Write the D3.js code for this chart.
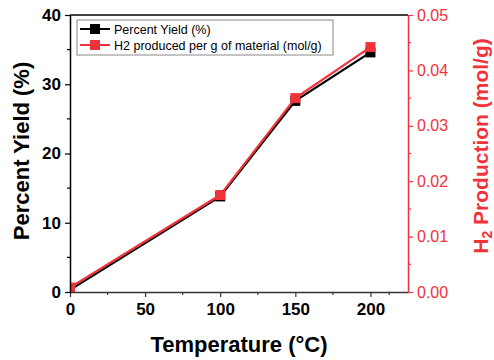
<!DOCTYPE html>
<html>
<head>
<meta charset="utf-8">
<script src="https://cdn.jsdelivr.net/npm/d3@7"></script>
<style>
  body { margin: 0; background: #fff; }
  text { font-family: Arial, "Liberation Sans", sans-serif; }
</style>
</head>
<body>
<svg id="chart" width="494" height="360"></svg>
<script>
// Data
var temps = [0, 100, 150, 200];
var percentYield = [0.3, 13.8, 27.6, 34.6];
var h2Production = [0.0008, 0.0175, 0.0350, 0.0442];
var xTicks = [0, 50, 100, 150, 200];
var yLeftTicks = [0, 10, 20, 30, 40];
var yRightTicks = [0, 0.01, 0.02, 0.03, 0.04, 0.05];
var legendLabels = ["Percent Yield (%)", "H2 produced per g of material (mol/g)"];

var RED = "#f0323a";

var svg = d3.select("#chart");
var m = { l: 70, r: 86, t: 15, b: 68 };
var W = 494, H = 360;

var x = d3.scaleLinear().domain([0, 225]).range([m.l, W - m.r]);
var yL = d3.scaleLinear().domain([0, 40]).range([H - m.b, m.t]);
var yR = d3.scaleLinear().domain([0, 0.05]).range([H - m.b, m.t]);

function translate(a, b) { return "translate(" + a + "," + b + ")"; }

// Clip for plot area
svg.append("clipPath").attr("id", "plotclip")
  .append("rect")
  .attr("x", m.l).attr("y", m.t)
  .attr("width", W - m.r - m.l).attr("height", H - m.b - m.t);

// Top frame line
svg.append("line")
  .attr("x1", m.l).attr("x2", W - m.r)
  .attr("y1", m.t).attr("y2", m.t)
  .style("stroke", "#000").style("stroke-width", 1.5);

// Minor ticks
function minor(ticks) {
  var out = [];
  for (var i = 0; i < ticks.length - 1; i++) out.push((ticks[i] + ticks[i + 1]) / 2);
  return out;
}

// Plot layer (clipped)
var plot = svg.append("g").attr("clip-path", "url(#plotclip)");

var lineL = d3.line().x(function(d, i) { return x(temps[i]); }).y(function(d) { return yL(d); });
var lineR = d3.line().x(function(d, i) { return x(temps[i]); }).y(function(d) { return yR(d); });

plot.append("path").datum(percentYield).attr("d", lineL)
  .style("fill", "none").style("stroke", "#000").style("stroke-width", 2.2);
plot.selectAll("rect.py").data(percentYield).enter().append("rect")
  .attr("class", "py")
  .attr("x", function(d, i) { return x(temps[i]) - 5; })
  .attr("y", function(d) { return yL(d) - 5; })
  .attr("width", 10).attr("height", 10)
  .style("fill", "#000");

plot.append("path").datum(h2Production).attr("d", lineR)
  .style("fill", "none").style("stroke", RED).style("stroke-width", 2.2);
plot.selectAll("rect.h2").data(h2Production).enter().append("rect")
  .attr("class", "h2")
  .attr("x", function(d, i) { return x(temps[i]) - 5; })
  .attr("y", function(d) { return yR(d) - 5; })
  .attr("width", 10).attr("height", 10)
  .style("fill", RED);

// Bottom axis
var gx = svg.append("g").attr("transform", translate(0, H - m.b))
  .call(d3.axisBottom(x).tickValues(xTicks).tickSize(5).tickSizeOuter(0).tickPadding(6));
gx.append("g").selectAll("line").data(minor(xTicks).concat([212.5]))
  .enter().append("line")
  .attr("x1", function(d) { return x(d); }).attr("x2", function(d) { return x(d); })
  .attr("y1", 0).attr("y2", 3);
gx.selectAll("line").style("stroke", "#333").style("stroke-width", 1.2);
gx.select(".domain").style("stroke", "#333").style("stroke-width", 1.5);
gx.selectAll("text").style("font-size", "17px").style("font-weight", "bold").style("fill", "#000");

// Left axis
var gl = svg.append("g").attr("transform", translate(m.l, 0))
  .call(d3.axisLeft(yL).tickValues(yLeftTicks).tickSize(5).tickSizeOuter(0).tickPadding(4));
gl.append("g").selectAll("line").data(minor(yLeftTicks))
  .enter().append("line")
  .attr("y1", function(d) { return yL(d); }).attr("y2", function(d) { return yL(d); })
  .attr("x1", 0).attr("x2", -3);
gl.selectAll("line").style("stroke", "#000").style("stroke-width", 1.2);
gl.select(".domain").style("stroke", "#000").style("stroke-width", 1.5);
gl.selectAll("text").style("font-size", "17px").style("font-weight", "bold").style("fill", "#000");

// Right axis
var gr = svg.append("g").attr("transform", translate(W - m.r, 0))
  .call(d3.axisRight(yR).tickValues(yRightTicks).tickFormat(d3.format(".2f")).tickSize(5).tickSizeOuter(0).tickPadding(4));
gr.append("g").selectAll("line").data(minor(yRightTicks))
  .enter().append("line")
  .attr("y1", function(d) { return yR(d); }).attr("y2", function(d) { return yR(d); })
  .attr("x1", 0).attr("x2", 3);
gr.selectAll("line").style("stroke", RED).style("stroke-width", 1.2);
gr.select(".domain").style("stroke", RED).style("stroke-width", 1.5);
gr.selectAll("text").style("font-size", "16px").style("fill", RED);

// Legend
var lg = svg.append("g").attr("transform", translate(77, 20));
lg.append("rect").attr("width", 256).attr("height", 35)
  .style("fill", "#fff").style("stroke", "#888").style("stroke-width", 1);
[["#000", legendLabels[0]], [RED, legendLabels[1]]].forEach(function(e, i) {
  var yy = 9 + i * 16;
  lg.append("line").attr("x1", 3).attr("x2", 33).attr("y1", yy).attr("y2", yy)
    .style("stroke", e[0]).style("stroke-width", 2);
  lg.append("rect").attr("x", 13).attr("y", yy - 5).attr("width", 10).attr("height", 10)
    .style("fill", e[0]);
  lg.append("text").attr("x", 37).attr("y", yy + 4.5)
    .style("font-size", "12.5px").style("fill", "#000").text(e[1]);
});

// Axis titles
svg.append("text")
  .attr("x", (m.l + W - m.r) / 2).attr("y", 352)
  .attr("text-anchor", "middle")
  .style("font-size", "22px").style("font-weight", "bold")
  .text("Temperature (°C)");

svg.append("text")
  .attr("transform", translate(29, 151) + " rotate(-90)")
  .attr("text-anchor", "middle")
  .style("font-size", "22px").style("font-weight", "bold")
  .text("Percent Yield (%)");

var rt = svg.append("text")
  .attr("transform", translate(488, 146) + " rotate(-90)")
  .attr("text-anchor", "middle")
  .style("font-size", "21px").style("font-weight", "bold").style("fill", RED);
rt.append("tspan").text("H");
rt.append("tspan").attr("dy", 4).style("font-size", "14px").text("2");
rt.append("tspan").attr("dy", -4).text(" Production (mol/g)");
</script>
</body>
</html>
